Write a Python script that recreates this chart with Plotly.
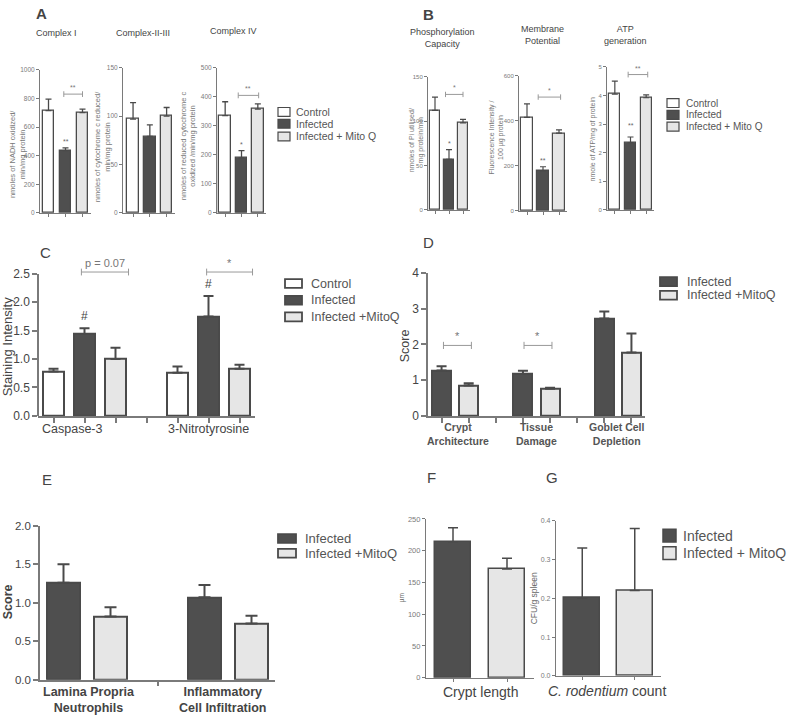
import plotly.graph_objects as go

W, H = 787, 723

# ---------------- data ----------------
groups3 = ["Control", "Infected", "Infected + Mito Q"]

# A: respiratory complex activities
complex1 = [715, 435, 700]
complex1_sem = [80, 20, 25]
complex23 = [97, 79, 100]
complex23_sem = [17, 12, 9]
complex4 = [335, 190, 358]
complex4_sem = [48, 25, 18]

# B
phos = [112, 57, 98]
phos_sem = [15, 11, 4]
memb = [415, 178, 345]
memb_sem = [60, 18, 15]
atp = [4.05, 2.35, 3.92]
atp_sem = [0.45, 0.2, 0.1]

# C: staining intensity
c_markers = ["Caspase-3", "3-Nitrotyrosine"]
c_control = [0.78, 0.76]
c_control_sem = [0.05, 0.11]
c_inf = [1.44, 1.75]
c_inf_sem = [0.10, 0.36]
c_mitoq = [1.00, 0.83]
c_mitoq_sem = [0.20, 0.07]

# D: histology scores
d_labels = ["Crypt<br>Architecture", "Tissue<br>Damage", "Goblet Cell<br>Depletion"]
d_inf = [1.27, 1.17, 2.72]
d_inf_sem = [0.12, 0.09, 0.20]
d_mitoq = [0.85, 0.76, 1.77]
d_mitoq_sem = [0.06, 0.03, 0.53]

# E: inflammation scores
e_labels = ["Lamina Propria<br>Neutrophils", "Inflammatory<br>Cell Infiltration"]
e_inf = [1.26, 1.07]
e_inf_sem = [0.24, 0.16]
e_mitoq = [0.82, 0.73]
e_mitoq_sem = [0.12, 0.10]

# F / G
crypt_len = [214, 171]
crypt_len_sem = [22, 17]
cfu = [0.20, 0.22]
cfu_sem = [0.13, 0.16]

WHITE, DARK, LIGHT = "#ffffff", "#4f4f4f", "#e6e6e6"
EDGE = "#4a4a4a"
AXC = "#7a7a7a"
FONT = "Liberation Sans, Arial, sans-serif"

fig = go.Figure()
layout = {}


def px(x, y):
    return x / W, 1 - y / H


def ref(n, yn=None):
    xa = "x" if n == 1 else f"x{n}"
    m = n if yn is None else yn
    ya = "y" if m == 1 else f"y{m}"
    return xa, ya


def panel(n, x0, x1, ytop, ybot, xr, yr, dtick, tickvals, fs, tcol=AXC, lw=1, tlen=3):
    xk = "xaxis" if n == 1 else f"xaxis{n}"
    yk = "yaxis" if n == 1 else f"yaxis{n}"
    xa, ya = ref(n)
    common = dict(showline=True, linecolor=AXC, linewidth=lw, ticks="outside",
                  tickcolor=AXC, tickwidth=lw, ticklen=tlen, showgrid=False,
                  zeroline=False, fixedrange=True, ticklabeloverflow="allow")
    layout[xk] = dict(domain=[x0 / W, x1 / W], anchor=ya, range=xr,
                      tickvals=tickvals, ticktext=[""] * len(tickvals), **common)
    layout[yk] = dict(domain=[1 - ybot / H, 1 - ytop / H], anchor=xa,
                      range=[yr[0], yr[1] * 1.0001],
                      dtick=dtick, tick0=0, tickfont=dict(size=fs, color=tcol, family=FONT),
                      **common)


def bars(n, xs, ys, errs, colors, bw, lw=1.5, ew=4):
    xa, ya = ref(n)
    fig.add_trace(go.Bar(
        x=xs, y=ys, width=bw, xaxis=xa, yaxis=ya, showlegend=False,
        marker=dict(color=colors, line=dict(color=EDGE, width=lw)),
        error_y=dict(type="data", array=errs, arrayminus=[0] * len(errs),
                     symmetric=False, color=EDGE, thickness=lw, width=ew)))


def bracket(n, xa_, xb_, y, h, text, tsize=7, color="#999999", yn=None):
    xa, ya = ref(n, yn)
    fig.add_trace(go.Scatter(
        x=[xa_, xa_, None, xa_, xb_, None, xb_, xb_],
        y=[y - h, y + h, None, y, y, None, y - h, y + h],
        mode="lines", line=dict(color=color, width=1), cliponaxis=False,
        xaxis=xa, yaxis=ya, showlegend=False, hoverinfo="skip"))
    fig.add_annotation(x=(xa_ + xb_) / 2, y=y, xref=xa, yref=ya, text=text,
                       showarrow=False, yanchor="bottom", yshift=1,
                       font=dict(size=tsize, color="#777777", family=FONT))


def mark(n, x, y, text, size, color="#666666", shift=1):
    xa, ya = ref(n)
    fig.add_annotation(x=x, y=y, xref=xa, yref=ya, text=text, showarrow=False,
                       yanchor="bottom", yshift=shift,
                       font=dict(size=size, color=color, family=FONT))


def text(xp, yp, t, size, color="#444444", angle=0, xanchor="center"):
    x, y = px(xp, yp)
    fig.add_annotation(x=x, y=y, xref="paper", yref="paper", text=t, showarrow=False,
                       textangle=angle, xanchor=xanchor, yanchor="middle",
                       font=dict(size=size, color=color, family=FONT))


def xlabel(n, x, yp, t, size, color="#444444"):
    xa, _ = ref(n)
    fig.add_annotation(x=x, y=1 - yp / H, xref=xa, yref="paper", text=t, showarrow=False,
                       xanchor="center", yanchor="middle",
                       font=dict(size=size, color=color, family=FONT))


def legend(xsq, w, h, xt, rows, labels, colors, size, lw=1.2):
    for yr, lab, col in zip(rows, labels, colors):
        x0, y0 = px(xsq, yr - h / 2)
        x1, y1 = px(xsq + w, yr + h / 2)
        fig.add_shape(type="rect", xref="paper", yref="paper", x0=x0, x1=x1, y0=y1, y1=y0,
                      fillcolor=col, line=dict(color=EDGE, width=lw))
        text(xt, yr, lab, size, color="#555555", xanchor="left")


cols3 = [WHITE, DARK, LIGHT]
s3 = [0, 1, 2]

# ---------------- panel A ----------------
panel(1, 40, 91, 64, 210, [-0.5, 2.5], [0, 1000], 200, s3, 6.5)
bars(1, s3, complex1, complex1_sem, cols3, 0.7, lw=1.3, ew=3)
mark(1, 1, complex1[1] + complex1_sem[1], "**", 7)
bracket(1, 0.9, 2.0, 830, 20, "**")

panel(2, 123, 175, 62, 210, [-0.6, 2.5], [0, 150], 50, s3, 6.5)
bars(2, s3, complex23, complex23_sem, cols3, 0.7, lw=1.3, ew=3)

panel(3, 217, 266, 62, 210, [-0.5, 2.5], [0, 500], 100, s3, 6.5)
bars(3, s3, complex4, complex4_sem, cols3, 0.7, lw=1.3, ew=3)
mark(3, 1, complex4[1] + complex4_sem[1], "*", 7)
bracket(3, 0.8, 2.05, 405, 10, "**")

text(41, 7, "<b>A</b>", 15, "#444444")
text(56, 27, "Complex I", 9)
text(143, 27, "Complex-II-III", 9)
text(233, 24, "Complex IV", 9)
text(17, 150, "nmoles of NADH oxidized/<br>min/mg protein", 7.5, "#777777", -90)
text(102, 143, "nmoles of cytochrome c reduced/<br>min/mg protein", 7.5, "#777777", -90)
text(188, 142, "nmoles of reduced cytochrome c<br>oxidized /min/mg protein", 7.5, "#777777", -90)
legend(278, 12, 9, 294, [107, 119, 132], groups3, cols3, 10.5)

# ---------------- panel B ----------------
panel(4, 428, 470, 71, 207, [-0.5, 2.5], [0, 150], 50, s3, 6)
bars(4, s3, phos, phos_sem, cols3, 0.7, lw=1.2, ew=3)
mark(4, 1, phos[1] + phos_sem[1], "*", 7)
bracket(4, 0.75, 2.0, 130, 3, "*")

panel(5, 519, 567, 70, 208, [-0.5, 2.5], [0, 600], 200, s3, 6)
bars(5, s3, memb, memb_sem, cols3, 0.7, lw=1.2, ew=3)
mark(5, 1, memb[1] + memb_sem[1], "**", 7)
bracket(5, 0.7, 2.1, 505, 12, "*")

panel(6, 607, 654, 61, 207, [-0.5, 2.5], [0, 5], 1, s3, 6)
bars(6, s3, atp, atp_sem, cols3, 0.7, lw=1.2, ew=3)
mark(6, 1, atp[1] + atp_sem[1], "**", 7, shift=6)
bracket(6, 0.85, 2.1, 4.73, 0.1, "**")

text(428, 8, "<b>B</b>", 15, "#444444")
text(442, 32, "Phosphorylation<br>Capacity", 9)
text(542, 29, "Membrane<br>Potential", 9)
text(625, 29, "ATP<br>generation", 9)
text(416, 136, "nmoles of Pi utilised/<br>mg protein/min", 7, "#777777", -90)
text(496, 133, "Fluorescence Intensity /<br>100 µg protein", 7, "#777777", -90)
text(593, 135, "nmole of ATP/mg of protein", 7, "#777777", -90)
legend(667, 12, 9, 684, [98, 110, 122], groups3, cols3, 10)

# ---------------- panel C ----------------
panel(7, 38, 255, 272, 417, [-0.5, 6.5], [0, 2.5], 0.5, list(range(7)), 12,
      tcol="#444444", lw=1.5, tlen=5)
layout["yaxis7"].update(tickformat=".1f", anchor="free", position=38 / W)
# invisible taller y scale sharing C's scale, so the brackets above 2.5 are not clipped
c_extra = 30
layout["yaxis12"] = dict(domain=[1 - 417 / H, 1 - (272 - c_extra) / H], anchor="x7",
                         range=[0, 2.5 * (145 + c_extra) / 145], visible=False,
                         fixedrange=True)
for k in range(2):
    base = 4 * k
    bars(7, [base, base + 1, base + 2], [c_control[k], c_inf[k], c_mitoq[k]],
         [c_control_sem[k], c_inf_sem[k], c_mitoq_sem[k]], cols3, 0.68, lw=2, ew=5)
    mark(7, base + 1, c_inf[k] + c_inf_sem[k], "#", 12, "#444444", shift=3)
bracket(7, 0.9, 2.42, 2.53, 0.06, "p = 0.07", tsize=11, yn=12)
bracket(7, 4.94, 6.42, 2.53, 0.06, "*", tsize=11, yn=12)
xlabel(7, 0.6, 430, c_markers[0], 12.5)
xlabel(7, 5.0, 430, c_markers[1], 12.5)
text(45, 250, "C", 15, "#444444")
text(7, 346, "Staining Intensity", 13, "#444444", -90)
legend(285, 17, 9, 309, [282, 299, 316], ["Control", "Infected", "Infected +MitoQ"],
       cols3, 12.5, lw=1.8)

# ---------------- panel D ----------------
panel(8, 428, 645, 271, 417, [-0.5, 7.5], [0, 4], 1, list(range(8)), 12,
      tcol="#444444", lw=1.5, tlen=5)
d_x_inf = [0, 3, 6]
d_x_mq = [1, 4, 7]
for k in range(3):
    bars(8, [d_x_inf[k], d_x_mq[k]], [d_inf[k], d_mitoq[k]],
         [d_inf_sem[k], d_mitoq_sem[k]], [DARK, LIGHT], 0.7, lw=2, ew=5)
bracket(8, 0.07, 1.1, 1.97, 0.1, "*", tsize=11)
bracket(8, 3.04, 4.07, 1.97, 0.1, "*", tsize=11)
for xx, lab in zip([0.6, 3.5, 6.45], d_labels):
    xlabel(8, xx, 435, "<b>" + lab + "</b>", 10.5, "#555555")
text(428, 240, "D", 15, "#444444")
text(405, 346, "Score", 12.5, "#444444", -90)
legend(660, 17, 9, 685, [280, 294], ["Infected", "Infected +MitoQ"], [DARK, LIGHT],
       12.5, lw=1.8)

# ---------------- panel E ----------------
panel(9, 40, 275, 529, 686, [-0.5, 4.5], [0, 2], 0.5, [2], 11.5,
      tcol="#444444", lw=1.5, tlen=5)
layout["yaxis9"]["tickformat"] = ".1f"
bars(9, [0, 3], e_inf, e_inf_sem, [DARK, DARK], 0.7, lw=2, ew=6)
bars(9, [1, 4], e_mitoq, e_mitoq_sem, [LIGHT, LIGHT], 0.7, lw=2, ew=6)
xlabel(9, 0.55, 707, "<b>" + e_labels[0] + "</b>", 12.5)
xlabel(9, 3.4, 707, "<b>" + e_labels[1] + "</b>", 12.5)
text(47, 482, "E", 15, "#444444")
text(8, 607, "<b>Score</b>", 12.5, "#444444", -90)
legend(278, 18, 9, 303, [542, 557], ["Infected", "Infected +MitoQ"], [DARK, LIGHT],
       13, lw=1.8)

# ---------------- panel F ----------------
panel(10, 426, 534, 522, 684, [-0.5, 1.5], [0, 250], 50, [0, 1], 7.5, lw=1.2)
bars(10, [0, 1], crypt_len, crypt_len_sem, [DARK, LIGHT], 0.68, lw=1.5, ew=5)
xlabel(10, 0.5, 699, "Crypt length", 14)
text(431, 480, "F", 15, "#444444")
text(402, 603, "µm", 6.5, "#666666", -90)

# ---------------- panel G ----------------
panel(11, 556, 661, 524, 682, [-0.5, 1.5], [0, 0.4], 0.1, [0, 1], 7, lw=1.2)
layout["yaxis11"]["tickformat"] = ".1f"
bars(11, [0, 1], cfu, cfu_sem, [DARK, LIGHT], 0.68, lw=1.5, ew=5)
xlabel(11, 0.47, 698, "<i>C. rodentium</i> count", 14)
text(552, 480, "G", 15, "#444444")
text(534, 603, "CFU/g spleen", 8.5, "#666666", -90)
legend(663, 13, 13, 681, [539, 557], ["Infected", "Infected + MitoQ"], [DARK, LIGHT],
       14, lw=1.5)

fig.update_layout(
    width=W, height=H, margin=dict(l=0, r=0, t=0, b=0),
    paper_bgcolor="white", plot_bgcolor="rgba(0,0,0,0)",
    font=dict(family=FONT), bargap=0, showlegend=False,
    **layout)

# the page's default body margin would push the figure 8px right and down
fig.write_html("out.html", config={"displayModeBar": False},
               post_script="document.body.style.margin='0';")
